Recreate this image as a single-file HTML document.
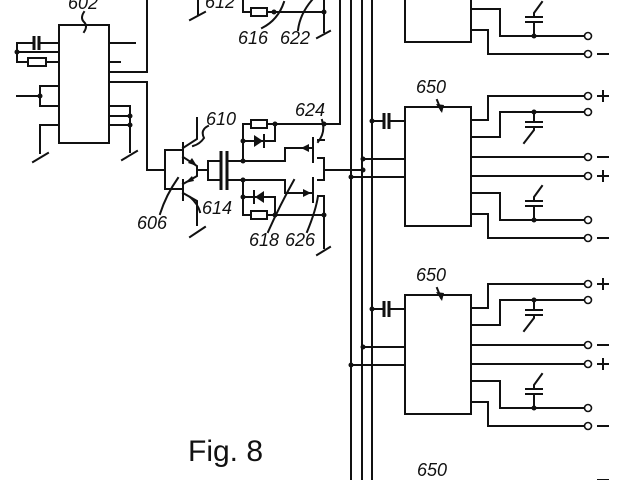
<!DOCTYPE html>
<html><head><meta charset="utf-8"><style>
html,body{margin:0;padding:0;background:#fff;}
svg{display:block;}
.l{fill:none;stroke:#111;stroke-width:2;stroke-linecap:square}
.t{font-family:"Liberation Sans",sans-serif;font-style:italic;font-size:18px;fill:#111}
</style></head><body>
<svg width="640" height="480" viewBox="0 0 640 480" xmlns="http://www.w3.org/2000/svg">
<defs>
<g id="mod">
  <rect class="l" x="405" y="107" width="66" height="119"/>
  <path class="l" d="M471 120H488V96H584 M471 137H500V112H584 M534 112V122 M526 122H542 M526 127H542 M534 127V130L524 143
  M471 157H584 M471 176H584 M471 193H500V220H584 M534 220V206 M526 206H542 M526 201H542 M534 201V197L542 186
  M471 214H488V238H584 M372 121H384 M390 121H405 M363 159H405 M351 177H405"/>
  <path d="M384 113V129M389 113V129" stroke="#111" stroke-width="3"/>
  <circle cx="588" cy="96" r="3.5" fill="#fff" stroke="#111" stroke-width="1.6"/>
  <circle cx="588" cy="112" r="3.5" fill="#fff" stroke="#111" stroke-width="1.6"/>
  <circle cx="588" cy="157" r="3.5" fill="#fff" stroke="#111" stroke-width="1.6"/>
  <circle cx="588" cy="176" r="3.5" fill="#fff" stroke="#111" stroke-width="1.6"/>
  <circle cx="588" cy="220" r="3.5" fill="#fff" stroke="#111" stroke-width="1.6"/>
  <circle cx="588" cy="238" r="3.5" fill="#fff" stroke="#111" stroke-width="1.6"/>
  <circle cx="534" cy="112" r="2.5" fill="#111"/><circle cx="534" cy="220" r="2.5" fill="#111"/>
  <circle cx="372" cy="121" r="2.5" fill="#111"/><circle cx="363" cy="159" r="2.5" fill="#111"/><circle cx="351" cy="177" r="2.5" fill="#111"/>
  <path class="l" d="M598 96H608M603 91V101M598 157H608M598 176H608M603 171V181M598 238H608"/>
  <text class="t" x="416" y="93">650</text>
  <path class="l" d="M437 100L441 110" stroke-width="1.5"/><path d="M436 104L444 105L442 113Z" fill="#111"/>
</g>
</defs>
<use href="#mod" y="-184"/>
<use href="#mod"/>
<use href="#mod" y="188"/>
<text class="t" x="417" y="476">650</text>
<path class="l" d="M598 480H608"/>
<!-- bus -->
<path class="l" d="M340 0V124H324 M351 0V480 M362 0V480 M372 0V480 M324 170H363"/>
<circle cx="363" cy="170" r="2.5" fill="#111"/>
<!-- IC 602 -->
<rect class="l" x="59" y="25" width="50" height="118"/>
<text class="t" x="68" y="9">602</text>
<path class="l" d="M84 12Q80 18 84 22Q88 26 84 32" stroke-width="1.4"/>
<path class="l" d="M17 43H33M40 43H59M17 43V62M17 52H59M17 62H28M46 62H59"/>
<path d="M34 36V50M39 36V50" stroke="#111" stroke-width="3"/>
<rect class="l" x="28" y="58" width="18" height="8" stroke-width="1.6"/>
<circle cx="17" cy="52" r="2.5" fill="#111"/>
<path class="l" d="M40 86H59M40 86V106M40 106H59M17 96H40M59 125H40V153M33 162L48 153"/>
<circle cx="40" cy="96" r="2.5" fill="#111"/>
<path class="l" d="M109 43H135M109 62H120M109 72H147V0M109 82H147V170H165M109 106H130V152M109 116H130M109 125H130M122 160L137 151"/>
<circle cx="130" cy="116" r="2.5" fill="#111"/><circle cx="130" cy="125" r="2.5" fill="#111"/>
<!-- top fragment -->
<path class="l" d="M198 0V14M190 20L205 12M243 0V12H251M267 12H324M324 0V32M317 38L330 31"/>
<rect class="l" x="251" y="8" width="16" height="8" stroke-width="1.6"/>
<circle cx="274" cy="12" r="2.5" fill="#111"/><circle cx="324" cy="12" r="2.5" fill="#111"/>
<text class="t" x="205" y="8">612</text>
<text class="t" x="238" y="44">616</text><text class="t" x="280" y="44">622</text>
<path class="l" d="M262 28Q278 20 284 2M298 30Q300 14 312 0" stroke-width="1.3"/>
<!-- transistors -->
<path class="l" d="M165 150V189M165 150H183M165 189H183M183 143V163M183 180V200M183 148L197 139V118M183 157L197 166V170M183 184L197 176V170M183 193L197 201V225M190 237L205 227M197 170H208M208 161V180M208 161H220M208 180H220"/>
<path d="M197 166L188 163L192 158Z" fill="#111"/><path d="M185 183L194 181L192 176Z" fill="#111"/>
<path d="M221 151V190M227 151V190" stroke="#111" stroke-width="3"/>
<path class="l" d="M227 161H285V148H313M227 180H285V193H313M243 161V124H251M267 124H324M243 141H275V124M243 180V215H251M267 215H324M243 197H275V215"/>
<rect class="l" x="251" y="120" width="16" height="8" stroke-width="1.6"/>
<rect class="l" x="251" y="211" width="16" height="8" stroke-width="1.6"/>
<path d="M254 135L254 147L263 141Z" fill="#111"/><path class="l" d="M264 135V147"/>
<path d="M264 191L264 203L255 197Z" fill="#111"/><path class="l" d="M254 191V203"/>
<path d="M301 148L309 144L309 152Z" fill="#111"/><path d="M311 193L303 189L303 197Z" fill="#111"/>
<path class="l" d="M313 138V162M313 178V202M318 140H324M318 158H324V170M318 180H324V170M318 196H324V248M317 255L330 247"/>
<circle cx="243" cy="161" r="2.5" fill="#111"/><circle cx="243" cy="180" r="2.5" fill="#111"/>
<circle cx="243" cy="141" r="2.5" fill="#111"/><circle cx="243" cy="197" r="2.5" fill="#111"/>
<circle cx="275" cy="124" r="2.5" fill="#111"/><circle cx="275" cy="215" r="2.5" fill="#111"/>
<circle cx="324" cy="124" r="2.5" fill="#111"/><circle cx="324" cy="215" r="2.5" fill="#111"/>
<text class="t" x="206" y="125">610</text>
<text class="t" x="295" y="116">624</text>
<text class="t" x="137" y="229">606</text>
<text class="t" x="202" y="214">614</text>
<text class="t" x="249" y="246">618</text><text class="t" x="285" y="246">626</text>
<path class="l" d="M208 126Q200 130 204 138Q200 144 193 146M322 120Q326 132 318 142M200 212Q198 204 190 197M160 214Q166 195 178 178M268 232Q280 205 294 180M307 232Q316 210 318 196" stroke-width="1.3"/>
<text x="188" y="461" font-family="Liberation Sans,sans-serif" font-size="30" fill="#111">Fig. 8</text>
</svg>
</body></html>
